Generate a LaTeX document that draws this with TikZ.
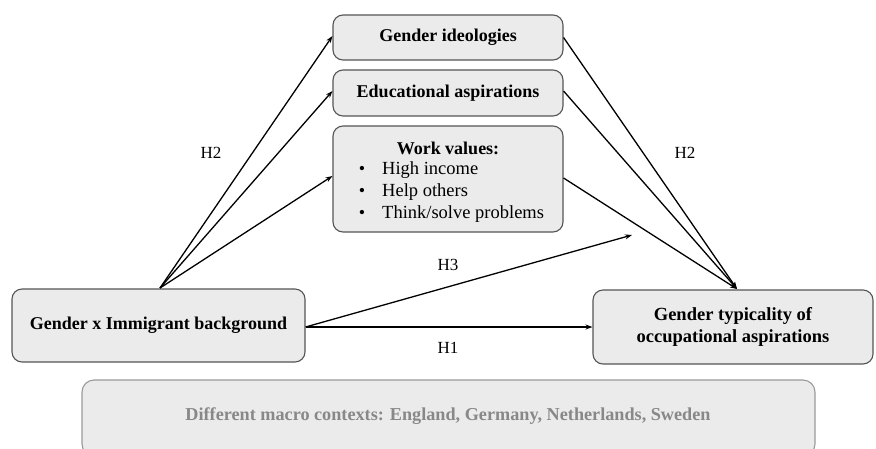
\documentclass[tikz,border=0pt]{standalone}
\usepackage{fontspec}
\setmainfont{Liberation Serif}
\usetikzlibrary{arrows.meta}
\definecolor{boxfill}{HTML}{EBEBEB}
\definecolor{boxline}{HTML}{555555}
\definecolor{ctxline}{HTML}{9A9A9A}
\definecolor{ctxtext}{HTML}{888888}
\tikzset{
  box/.style={draw=boxline, line width=1.1pt, fill=boxfill, rounded corners=10pt, inner sep=0pt, align=center, font=\fontsize{18}{21.5}\selectfont\bfseries},
  ctx/.style={draw=ctxline, line width=1.1pt, fill=boxfill, rounded corners=12pt, inner sep=0pt},
  arr/.style={line width=1.3pt, -{Stealth[length=7pt,width=5pt]}},
  hlab/.style={font=\fontsize{17}{20}\selectfont},
  item/.style={font=\fontsize{18.5}{22}\selectfont, anchor=west, inner sep=0pt},
  bul/.style={font=\fontsize{18}{22}\selectfont, inner sep=0pt},
}
\begin{document}
\begin{tikzpicture}[x=1pt,y=-1pt]
\useasboundingbox (0,0) rectangle (876,448);
% macro context box
\node[ctx, minimum width=733pt, minimum height=76pt] (macro) at (448.5,418) {};
\node[font=\fontsize{18.2}{21}\selectfont\bfseries, text=ctxtext] (macrotxt) at (448,416) {Different macro contexts: England, Germany, Netherlands, Sweden};
% boxes
\node[box, minimum width=230pt, minimum height=45pt] (gi) at (448,37.5) {Gender ideologies};
\node[box, minimum width=230pt, minimum height=46pt] (ea) at (448,93) {Educational aspirations};
\node[box, minimum width=230pt, minimum height=106pt] (wv) at (448,179) {};
\node[font=\fontsize{18}{21}\selectfont\bfseries] (wvt) at (448,148) {Work values:};
\node[bul] (b1) at (362,170) {•};
\node[bul] (b2) at (362,192) {•};
\node[bul] (b3) at (362,214) {•};
\node[item] (wv1) at (382,170) {High income};
\node[item] (wv2) at (382,192) {Help others};
\node[item] (wv3) at (382,214) {Think/solve problems};
\node[box, minimum width=293pt, minimum height=73pt] (gxi) at (158.5,325.5) {Gender x Immigrant background};
\node[box, minimum width=280pt, minimum height=74pt, font=\fontsize{18.5}{22}\selectfont\bfseries] (gt) at (733,327) {Gender typicality of\\occupational aspirations};
% connectors
\coordinate (src) at (160,288);
\coordinate (dst) at (737,289);
\coordinate (h3end) at (632,235);
\draw[arr] (src) -- ([yshift=1.5pt]gi.west);
\draw[arr] (src) -- ([yshift=2pt]ea.west);
\draw[arr] (src) -- ([yshift=3pt]wv.west);
\draw[arr] (gi.east) -- (dst);
\draw[arr] ([yshift=2pt]ea.east) -- (dst);
\draw[arr] ([yshift=1pt]wv.east) -- (dst);
\draw[arr] ([yshift=-1.5pt]gxi.east) -- (h3end);
\draw[arr] ([yshift=-1.5pt]gxi.east) -- (gt.west);
% labels
\node[hlab] (h2a) at (211,153) {H2};
\node[hlab] (h2b) at (685,153) {H2};
\node[hlab] (h3) at (448,265) {H3};
\node[hlab] (h1) at (448,348) {H1};
\end{tikzpicture}
\end{document}
